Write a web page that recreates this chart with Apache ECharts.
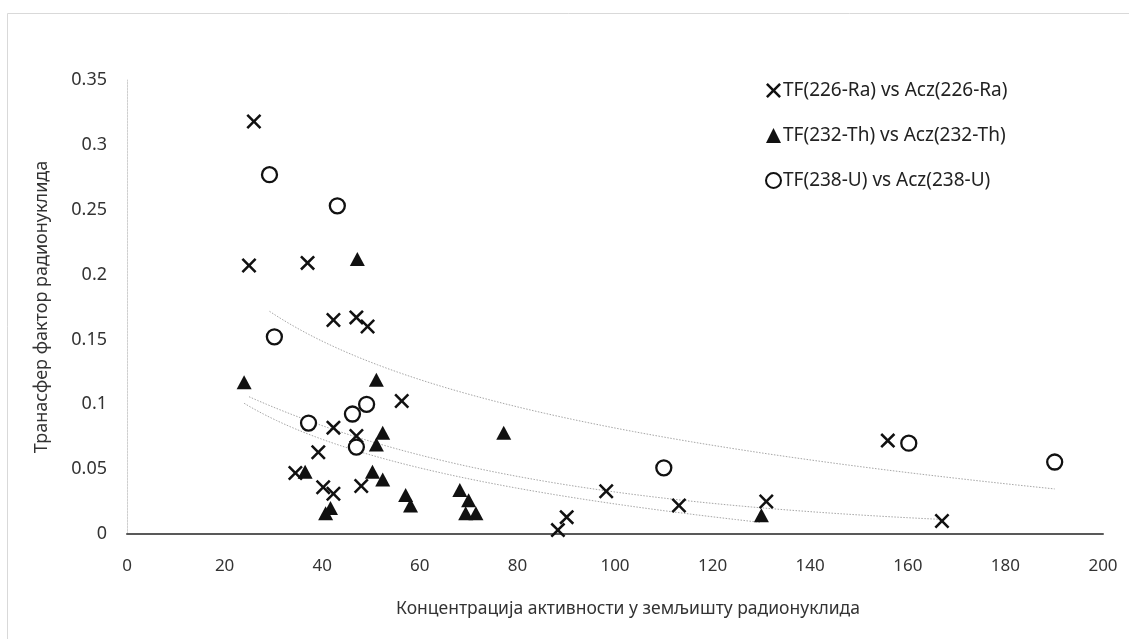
<!DOCTYPE html>
<html>
<head>
<meta charset="utf-8">
<script src="https://cdn.jsdelivr.net/npm/echarts@6/dist/echarts.min.js"></script>
<style>
html,body{margin:0;padding:0;background:#fff;}
#c{width:1129px;height:639px;}
</style>
</head>
<body>
<div id="c"></div>
<script>
// Data
const raX = [26, 25, 37, 42.3, 47, 49.3, 56.3, 42.3, 47, 39.2, 34.5, 40.2, 42.3, 48, 88.3, 90.1, 98.2, 113.1, 131, 155.9, 167];
const raY = [0.318, 0.207, 0.209, 0.165, 0.167, 0.160, 0.1025, 0.082, 0.0755, 0.063, 0.047, 0.036, 0.031, 0.037, 0.003, 0.013, 0.033, 0.022, 0.025, 0.072, 0.010];
const thX = [24, 36.5, 40.7, 41.7, 47.2, 50.3, 51.1, 51.1, 52.4, 52.4, 57.1, 58.1, 68.2, 70, 69.4, 71.5, 77.2, 130];
const thY = [0.117, 0.048, 0.016, 0.020, 0.212, 0.048, 0.119, 0.069, 0.078, 0.042, 0.030, 0.022, 0.034, 0.026, 0.016, 0.016, 0.078, 0.0145];
const uX = [29.2, 43.1, 30.2, 37.2, 46.2, 49.1, 47, 110, 160.2, 190.1];
const uY = [0.277, 0.253, 0.152, 0.0855, 0.0925, 0.100, 0.067, 0.051, 0.070, 0.0555];
const seriesNames = ['TF(226-Ra) vs Acz(226-Ra)', 'TF(232-Th) vs Acz(232-Th)', 'TF(238-U) vs Acz(238-U)'];
const xTitle = 'Концентрација активности у земљишту радионуклида';
const yTitle = 'Транасфер фактор радионуклида';

function pairs(xs, ys){ return xs.map((x,i)=>[x, ys[i]]); }
function sample(xs, f){
  const x0 = Math.min(...xs), x1 = Math.max(...xs), pts = [], steps = 80;
  for(let k=0;k<=steps;k++){ const x = x0 + (x1-x0)*k/steps; pts.push([x, f(x)]); }
  return pts;
}
function linfit(us, vs){
  const n = us.length, mu = us.reduce((s,v)=>s+v,0)/n, mv = vs.reduce((s,v)=>s+v,0)/n;
  let sxy=0, sxx=0;
  for(let i=0;i<n;i++){ sxy += (us[i]-mu)*(vs[i]-mv); sxx += (us[i]-mu)*(us[i]-mu); }
  const b = sxy/sxx; return {a: mv - b*mu, b};
}
// Logarithmic trendline y = a + b ln x
function logTrend(xs, ys){ const f = linfit(xs.map(Math.log), ys); return sample(xs, x => f.a + f.b*Math.log(x)); }
// Exponential trendline y = A e^(b x)
function expTrend(xs, ys){ const f = linfit(xs, ys.map(Math.log)); return sample(xs, x => Math.exp(f.a + f.b*x)); }

const crossPath = 'path://M0,1.2L1.2,0L5,3.8L8.8,0L10,1.2L6.2,5L10,8.8L8.8,10L5,6.2L1.2,10L0,8.8L3.8,5Z';
const font = 'Noto Sans';
const trendStyle = {color:'#a6a6a6', width:1, type:[1.5,1.5]};

const chart = echarts.init(document.getElementById('c'));
chart.setOption({
  backgroundColor:'#fff',
  animation:false,
  graphic:[{type:'rect', shape:{x:7.5,y:13.5,width:1140,height:640}, style:{fill:'none', stroke:'#d9d9d9', lineWidth:1}, silent:true}],
  grid:{left:127, right:26, top:80, bottom:105},
  legend:{
    orient:'vertical', left:760, top:76, itemGap:26, itemWidth:15, itemHeight:15,
    data:seriesNames,
    textStyle:{fontFamily:font, fontSize:19, color:'#222', padding:[0,0,0,-3]}
  },
  xAxis:{
    type:'value', min:0, max:200, interval:20,
    name:xTitle, nameLocation:'middle', nameGap:66,
    nameTextStyle:{fontFamily:font, fontSize:17.5, color:'#333', padding:[0,0,0,26]},
    axisLine:{show:true, lineStyle:{color:'#595959', width:2}},
    axisTick:{show:false},
    splitLine:{show:false},
    axisLabel:{fontFamily:font, fontSize:17, color:'#333', margin:24}
  },
  yAxis:{
    type:'value', min:0, max:0.35, interval:0.05,
    name:yTitle, nameLocation:'middle', nameGap:76, nameRotate:90,
    nameTextStyle:{fontFamily:font, fontSize:18, color:'#333'},
    axisLine:{show:true, lineStyle:{color:'#cfcfcf', width:1, type:[2,1]}},
    axisTick:{show:false},
    splitLine:{show:false},
    axisLabel:{fontFamily:font, fontSize:18, color:'#333', margin:20}
  },
  series:[
    {name:seriesNames[0], type:'scatter', data:pairs(raX, raY), symbol:crossPath, symbolSize:15, itemStyle:{color:'#111', opacity:1}, z:5},
    {name:seriesNames[1], type:'scatter', data:pairs(thX, thY), symbol:'triangle', symbolSize:[15,14], itemStyle:{color:'#111', opacity:1}, z:5},
    {name:seriesNames[2], type:'scatter', data:pairs(uX, uY), symbol:'circle', symbolSize:15, itemStyle:{color:'#fff', borderColor:'#111', borderWidth:2.3, opacity:1}, z:5},
    {name:'trendRa', type:'line', data:expTrend(raX, raY), showSymbol:false, symbol:'none', lineStyle:trendStyle, silent:true, z:2},
    {name:'trendTh', type:'line', data:logTrend(thX, thY), showSymbol:false, symbol:'none', lineStyle:trendStyle, silent:true, z:2},
    {name:'trendU', type:'line', data:logTrend(uX, uY), showSymbol:false, symbol:'none', lineStyle:trendStyle, silent:true, z:2}
  ]
});
</script>
</body>
</html>
